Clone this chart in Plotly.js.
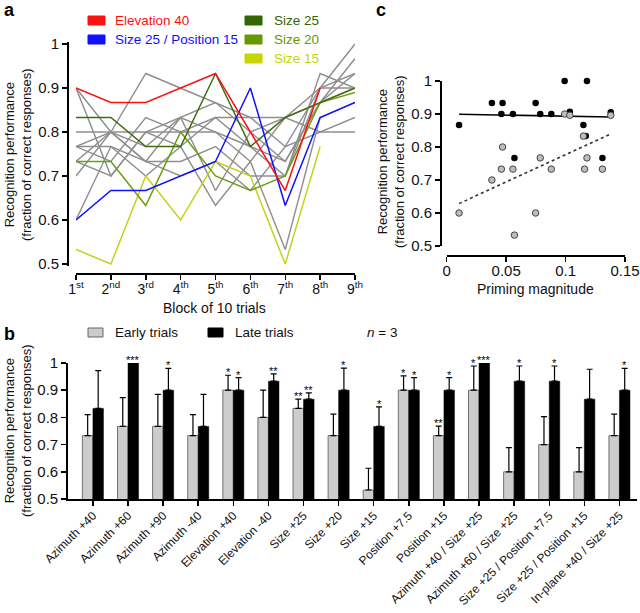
<!DOCTYPE html>
<html>
<head>
<meta charset="utf-8">
<script src="https://cdn.plot.ly/plotly-3.0.1.min.js"></script>
<style>
  html, body { margin: 0; padding: 0; background: #fff; }
  #fig { width: 640px; height: 613px; }
</style>
</head>
<body>
<div id="fig"></div>
<script>
// ---- panel a: recognition per block ----
const blockNums = [1, 2, 3, 4, 5, 6, 7, 8, 9];
const blockLabels = ['1<sup>st</sup>', '2<sup>nd</sup>', '3<sup>rd</sup>', '4<sup>th</sup>', '5<sup>th</sup>',
                     '6<sup>th</sup>', '7<sup>th</sup>', '8<sup>th</sup>', '9<sup>th</sup>'];
const grayRuns = [
  [0.9, 0.7, 0.8, 0.833, 0.867, 0.8, 0.833, 0.8, 0.8],
  [0.9, 0.8, 0.933, 0.9, 0.867, 0.833, 0.833, 0.9, 0.9],
  [0.8, 0.8, 0.8, 0.8, 0.8, 0.767, 0.733, 0.867, 0.967],
  [0.767, 0.733, 0.833, 0.8, 0.833, 0.833, 0.767, 0.9, 1.0],
  [0.733, 0.8, 0.733, 0.733, 0.767, 0.7, 0.7, 0.933, 0.9],
  [0.7, 0.8, 0.767, 0.833, 0.667, 0.8, 0.733, 0.867, 0.933],
  [0.6, 0.767, 0.7, 0.767, 0.633, 0.733, 0.533, 0.833, 0.867],
  [0.767, 0.767, 0.733, 0.7, 0.733, 0.667, 0.767, 0.8, 0.833],
  [0.733, 0.7, 0.8, 0.767, 0.833, 0.767, 0.7, 0.9, 0.933],
  [0.767, 0.8, 0.733, 0.833, 0.8, 0.733, 0.833, 0.867, 0.9]
];
const elevation40 = [0.9, 0.867, 0.867, 0.9, 0.933, 0.8, 0.667, 0.9];
const size25pos15 = [0.6, 0.667, 0.667, 0.7, 0.733, 0.9, 0.633, 0.833, 0.867];
const size25 = [0.833, 0.833, 0.767, 0.767, 0.933, 0.767, 0.833, 0.867, 0.9];
const size20 = [0.733, 0.733, 0.633, 0.8, 0.7, 0.667, 0.7, 0.867, 0.89];
const size15 = [0.533, 0.5, 0.7, 0.6, 0.733, 0.7, 0.5, 0.767];

const colRed = '#ff1010', colBlue = '#1010ff', colDark = '#3f6e0c', colMid = '#6c9e10', colLight = '#c4d21c';

// ---- panel b: early vs late trials ----
const conditions = ['Azimuth +40', 'Azimuth +60', 'Azimuth +90', 'Azimuth -40', 'Elevation +40', 'Elevation -40',
  'Size +25', 'Size +20', 'Size +15', 'Position +7.5', 'Position +15', 'Azimuth +40 / Size +25',
  'Azimuth +60 / Size +25', 'Size +25 / Position +7.5', 'Size +25 / Position +15', 'In-plane +40 / Size +25'];
const earlyVals = [0.733, 0.767, 0.767, 0.733, 0.9, 0.8, 0.833, 0.733, 0.533, 0.9, 0.733, 0.9, 0.6, 0.7, 0.6, 0.733];
const earlyErr  = [0.077, 0.106, 0.118, 0.077, 0.055, 0.1, 0.034, 0.079, 0.08, 0.053, 0.035, 0.089, 0.089, 0.103, 0.089, 0.079];
const lateVals  = [0.833, 1.0, 0.9, 0.767, 0.9, 0.933, 0.867, 0.9, 0.767, 0.9, 0.9, 1.0, 0.933, 0.933, 0.867, 0.9];
const lateErr   = [0.139, 0, 0.08, 0.118, 0.046, 0.027, 0.023, 0.081, 0.072, 0.046, 0.046, 0, 0.056, 0.056, 0.11, 0.08];
const earlyStars = ['', '', '', '', '*', '', '**', '', '', '*', '**', '*', '', '', '', ''];
const lateStars  = ['', '***', '*', '', '*', '**', '**', '*', '*', '*', '*', '***', '*', '*', '', '*'];

// ---- panel c: priming vs performance ----
const primingLate  = [0.0104, 0.038, 0.047, 0.046, 0.0557, 0.057, 0.0748, 0.0787, 0.088, 0.0992, 0.1036, 0.118, 0.115, 0.117, 0.131, 0.138];
const perfLate     = [0.867, 0.933, 0.933, 0.9, 0.9, 0.767, 0.933, 0.9, 0.9, 1.0, 0.907, 1.0, 0.867, 0.833, 0.767, 0.905];
const primingEarly = [0.0104, 0.038, 0.047, 0.046, 0.0557, 0.057, 0.0748, 0.0787, 0.088, 0.0992, 0.1036, 0.115, 0.118, 0.116, 0.131, 0.138];
const perfEarly    = [0.6, 0.7, 0.8, 0.733, 0.733, 0.533, 0.6, 0.767, 0.733, 0.9, 0.896, 0.833, 0.767, 0.733, 0.733, 0.896];

const FONT = 'Liberation Sans, Arial, sans-serif';
const px = x => x / 640;          // pixel -> paper
const py = y => 1 - y / 613;

//least squares fit, returns line end points over the x span
function fitLine(xs, ys) {
  const n = xs.length;
  const mx = xs.reduce((s, v) => s + v, 0) / n;
  const my = ys.reduce((s, v) => s + v, 0) / n;
  let sxy = 0, sxx = 0;
  for (let i = 0; i < n; i++) { sxy += (xs[i] - mx) * (ys[i] - my); sxx += (xs[i] - mx) ** 2; }
  const b = sxy / sxx, a = my - b * mx;
  const x0 = Math.min(...xs), x1 = Math.max(...xs);
  return { x: [x0, x1], y: [a + b * x0, a + b * x1] };
}

const traces = [];
grayRuns.forEach(r => traces.push({
  x: blockNums.slice(0, r.length), y: r, xaxis: 'x', yaxis: 'y', mode: 'lines',
  line: { color: '#8e8e8e', width: 1.4 }, showlegend: false, hoverinfo: 'skip'
}));
[[size15, colLight], [size20, colMid], [size25, colDark], [size25pos15, colBlue], [elevation40, colRed]].forEach(([v, c]) => {
  traces.push({ x: blockNums.slice(0, v.length), y: v, xaxis: 'x', yaxis: 'y', mode: 'lines',
    line: { color: c, width: 1.5 }, showlegend: false });
});

traces.push({
  type: 'bar', x: conditions, y: earlyVals, xaxis: 'x2', yaxis: 'y2', name: 'Early trials',
  marker: { color: '#cccccc', line: { color: '#555', width: 0.8 } },
  error_y: { type: 'data', symmetric: false, array: earlyErr, arrayminus: earlyErr.map(() => 0),
             color: '#000', thickness: 1.2, width: 3 },
  showlegend: false
});
traces.push({
  type: 'bar', x: conditions, y: lateVals, xaxis: 'x2', yaxis: 'y2', name: 'Late trials',
  marker: { color: '#000', line: { color: '#000', width: 0.5 } },
  error_y: { type: 'data', symmetric: false, array: lateErr, arrayminus: lateErr.map(() => 0),
             color: '#000', thickness: 1.2, width: 3 },
  showlegend: false
});

const fitLate = fitLine(primingLate, perfLate);
const fitEarly = fitLine(primingEarly, perfEarly);
traces.push({ x: fitLate.x, y: fitLate.y, xaxis: 'x3', yaxis: 'y3', mode: 'lines',
  line: { color: '#000', width: 1.6 }, showlegend: false });
traces.push({ x: fitEarly.x, y: fitEarly.y, xaxis: 'x3', yaxis: 'y3', mode: 'lines',
  line: { color: '#333', width: 1.6, dash: 'dot' }, showlegend: false });
traces.push({ x: primingLate, y: perfLate, xaxis: 'x3', yaxis: 'y3', mode: 'markers', cliponaxis: false,
  marker: { color: '#000', size: 6.5 }, showlegend: false });
traces.push({ x: primingEarly, y: perfEarly, xaxis: 'x3', yaxis: 'y3', mode: 'markers', cliponaxis: false,
  marker: { color: '#bdbdbd', size: 6.5, line: { color: '#444', width: 1 } }, showlegend: false });

const axisBase = {
  showline: true, linecolor: '#000', linewidth: 1.8, ticks: 'outside', ticklen: 5, tickwidth: 1.5,
  tickcolor: '#000', showgrid: false, zeroline: false, fixedrange: true,
  tickfont: { family: FONT, size: 15, color: '#111' }
};
const perfTicks = [0.5, 0.6, 0.7, 0.8, 0.9, 1];

const annotations = [];
const shapes = [];
function label(text, x, y, opts) {
  annotations.push(Object.assign({ text: text, x: px(x), y: py(y), xref: 'paper', yref: 'paper',
    xanchor: 'center', yanchor: 'middle', showarrow: false,
    font: { family: FONT, size: 13, color: '#111' } }, opts || {}));
}
function swatch(x0, y0, x1, y1, fill, line) {
  shapes.push({ type: 'rect', xref: 'paper', yref: 'paper', x0: px(x0), x1: px(x1), y0: py(y0), y1: py(y1),
    fillcolor: fill, line: { color: line || fill, width: 1 } });
}

// panel letters
label('<b>a</b>', 2, 10, { xanchor: 'left', font: { family: FONT, size: 18, color: '#000' } });
label('<b>b</b>', 2, 334, { xanchor: 'left', font: { family: FONT, size: 18, color: '#000' } });
label('<b>c</b>', 374, 10, { xanchor: 'left', font: { family: FONT, size: 18, color: '#000' } });

// panel a legend
swatch(88, 16, 105, 25, colRed);
swatch(88, 35, 105, 44, colBlue);
swatch(245, 16, 262, 25, '#336600');
swatch(245, 35, 262, 44, '#669900');
swatch(245, 54, 262, 63, '#c6d600');
const legFont = c => ({ family: FONT, size: 13.5, color: c });
label('Elevation 40', 113, 20.5, { xanchor: 'left', font: legFont(colRed) });
label('Size 25 / Position 15', 113, 39.5, { xanchor: 'left', font: legFont(colBlue) });
label('Size 25', 272, 20.5, { xanchor: 'left', font: legFont('#336600') });
label('Size 20', 272, 39.5, { xanchor: 'left', font: legFont('#669900') });
label('Size 15', 272, 58.5, { xanchor: 'left', font: legFont('#c6d600') });

// axis titles
label('Recognition performance<br>(fraction of correct responses)', 18, 155, { textangle: -90 });
label('Block of 10 trials', 214, 308, { font: { family: FONT, size: 14, color: '#111' } });
label('Recognition performance<br>(fraction of correct responses)', 18, 431, { textangle: -90 });
label('Recognition performance<br>(fraction of correct responses)', 391, 162, { textangle: -90 });
label('Priming magnitude', 535, 289, { font: { family: FONT, size: 14, color: '#111' } });

// panel b legend
swatch(88, 328, 103, 337, '#cccccc', '#666');
swatch(208, 328, 223, 337, '#000');
label('Early trials', 113, 332.5, { xanchor: 'left', font: legFont('#111') });
label('Late trials', 233, 332.5, { xanchor: 'left', font: legFont('#111') });
label('<i>n</i> = 3', 365, 332.5, { xanchor: 'left', font: legFont('#111') });

// significance stars
conditions.forEach((c, i) => {
  if (earlyStars[i]) annotations.push({ text: earlyStars[i], x: c, y: earlyVals[i] + earlyErr[i], xref: 'x2', yref: 'y2',
    xshift: -5.3, yshift: -5, yanchor: 'bottom', showarrow: false, font: { family: FONT, size: 11, color: '#000' } });
  if (lateStars[i]) annotations.push({ text: lateStars[i], x: c, y: lateVals[i] + lateErr[i], xref: 'x2', yref: 'y2',
    xshift: 5.3, yshift: -5, yanchor: 'bottom', showarrow: false, font: { family: FONT, size: 11, color: '#000' } });
});

const layout = {
  width: 640, height: 613, margin: { l: 0, r: 0, t: 0, b: 0 },
  paper_bgcolor: '#fff', plot_bgcolor: 'rgba(0,0,0,0)',
  font: { family: FONT, color: '#111' },
  showlegend: false,
  barmode: 'group', bargap: 0.4, bargroupgap: 0,
  xaxis: Object.assign({}, axisBase, {
    domain: [px(76), px(355)], range: [1, 9], anchor: 'free', position: py(273),
    tickvals: blockNums, ticktext: blockLabels, ticklabelstandoff: -3,
    tickfont: { family: FONT, size: 14, color: '#111' }
  }),
  yaxis: Object.assign({}, axisBase, {
    domain: [py(266.2), py(41.8)], range: [0.495, 1.005], anchor: 'free', position: px(67),
    tickvals: perfTicks
  }),
  xaxis2: Object.assign({}, axisBase, {
    domain: [px(68), px(637)], range: [-0.71, 15.5], anchor: 'y2', type: 'category',
    tickangle: -45, ticklabelstandoff: -2, tickfont: { family: FONT, size: 12, color: '#111' }
  }),
  yaxis2: Object.assign({}, axisBase, {
    domain: [py(499), py(363)], range: [0.5, 1], anchor: 'x2', tickvals: perfTicks
  }),
  xaxis3: Object.assign({}, axisBase, {
    domain: [px(446.7), px(625)], range: [0, 0.15], anchor: 'free', position: py(255),
    tickvals: [0, 0.05, 0.1, 0.15], ticktext: ['0', '0.05', '0.1', '0.15'], ticklabelstandoff: -4
  }),
  yaxis3: Object.assign({}, axisBase, {
    domain: [py(246), py(81)], range: [0.5, 1], anchor: 'free', position: px(440),
    tickvals: perfTicks
  }),
  annotations: annotations,
  shapes: shapes
};

Plotly.newPlot('fig', traces, layout, { displayModeBar: false, staticPlot: true });
</script>
</body>
</html>
